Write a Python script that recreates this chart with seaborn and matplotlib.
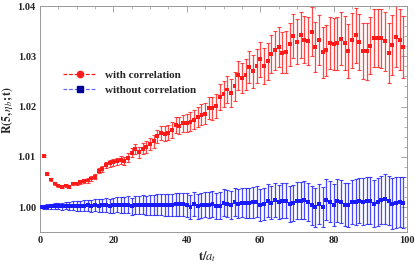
import numpy as np
import pandas as pd
import matplotlib
matplotlib.use("Agg")
import matplotlib.pyplot as plt
import seaborn as sns
from matplotlib.lines import Line2D
from matplotlib.ticker import MultipleLocator

# ---------------- data ----------------
t = list(range(0, 100))

with_corr = [
    1.0000, 1.0102, 1.0066, 1.0055, 1.0047, 1.0043, 1.0041, 1.0043, 1.0041, 1.0047,
    1.0047, 1.0050, 1.0052, 1.0053, 1.0057, 1.0060, 1.0072, 1.0076, 1.0083, 1.0087,
    1.0089, 1.0091, 1.0093, 1.0091, 1.0098, 1.0108, 1.0116, 1.0109, 1.0116, 1.0120,
    1.0126, 1.0131, 1.0141, 1.0147, 1.0146, 1.0148, 1.0154, 1.0164, 1.0162, 1.0167,
    1.0168, 1.0170, 1.0174, 1.0180, 1.0184, 1.0186, 1.0197, 1.0197, 1.0202, 1.0219,
    1.0225, 1.0234, 1.0227, 1.0240, 1.0262, 1.0257, 1.0263, 1.0279, 1.0270, 1.0280,
    1.0294, 1.0280, 1.0290, 1.0304, 1.0312, 1.0318, 1.0307, 1.0309, 1.0324, 1.0340,
    1.0329, 1.0342, 1.0333, 1.0330, 1.0349, 1.0318, 1.0332, 1.0308, 1.0312, 1.0327,
    1.0324, 1.0326, 1.0335, 1.0327, 1.0310, 1.0332, 1.0342, 1.0328, 1.0310, 1.0310,
    1.0321, 1.0337, 1.0336, 1.0336, 1.0330, 1.0307, 1.0322, 1.0339, 1.0333, 1.0319,
]
with_err = [
    0.0000, 0.0002, 0.0002, 0.0002, 0.0002, 0.0002, 0.0002, 0.0003, 0.0003, 0.0003,
    0.0003, 0.0003, 0.0004, 0.0004, 0.0004, 0.0005, 0.0005, 0.0006, 0.0006, 0.0007,
    0.0007, 0.0007, 0.0008, 0.0008, 0.0009, 0.0009, 0.0010, 0.0011, 0.0011, 0.0012,
    0.0012, 0.0013, 0.0013, 0.0014, 0.0015, 0.0015, 0.0016, 0.0016, 0.0017, 0.0017,
    0.0018, 0.0019, 0.0019, 0.0020, 0.0021, 0.0021, 0.0022, 0.0023, 0.0024, 0.0025,
    0.0025, 0.0026, 0.0027, 0.0028, 0.0029, 0.0030, 0.0031, 0.0032, 0.0033, 0.0034,
    0.0035, 0.0036, 0.0037, 0.0038, 0.0039, 0.0040, 0.0041, 0.0042, 0.0043, 0.0044,
    0.0045, 0.0046, 0.0047, 0.0048, 0.0049, 0.0050, 0.0050, 0.0051, 0.0051, 0.0052,
    0.0052, 0.0053, 0.0053, 0.0054, 0.0054, 0.0055, 0.0055, 0.0056, 0.0056, 0.0057,
    0.0057, 0.0058, 0.0058, 0.0059, 0.0059, 0.0060, 0.0060, 0.0061, 0.0061, 0.0062,
]

without_corr = [
    1.0000, 1.0001, 1.0001, 1.0002, 1.0002, 1.0002, 1.0002, 1.0003, 1.0002, 1.0003,
    1.0003, 1.0002, 1.0003, 1.0004, 1.0003, 1.0004, 1.0003, 1.0004, 1.0004, 1.0003,
    1.0004, 1.0005, 1.0004, 1.0004, 1.0005, 1.0002, 1.0005, 1.0004, 1.0005, 1.0004,
    1.0005, 1.0004, 1.0005, 1.0005, 1.0004, 1.0004, 1.0005, 1.0006, 1.0006, 1.0006,
    1.0005, 1.0000, 1.0006, 1.0002, 1.0004, 1.0005, 1.0005, 1.0006, 1.0003, 1.0003,
    1.0009, 1.0007, 1.0005, 1.0010, 1.0007, 1.0009, 1.0008, 1.0009, 1.0010, 1.0011,
    1.0005, 1.0007, 1.0013, 1.0009, 1.0015, 1.0011, 1.0013, 1.0013, 1.0007, 1.0008,
    1.0013, 1.0013, 1.0014, 1.0010, 1.0004, 1.0000, 1.0007, 1.0001, 1.0015, 1.0011,
    1.0005, 1.0013, 1.0011, 1.0005, 1.0004, 1.0010, 1.0010, 1.0013, 1.0011, 1.0013,
    1.0013, 1.0007, 1.0010, 1.0014, 1.0016, 1.0013, 1.0007, 1.0009, 1.0010, 1.0009,
]
without_err = [
    0.0000, 0.0004, 0.0005, 0.0005, 0.0006, 0.0006, 0.0007, 0.0007, 0.0008, 0.0009,
    0.0010, 0.0010, 0.0011, 0.0011, 0.0012, 0.0012, 0.0013, 0.0013, 0.0014, 0.0014,
    0.0015, 0.0015, 0.0016, 0.0016, 0.0017, 0.0017, 0.0018, 0.0018, 0.0019, 0.0019,
    0.0020, 0.0020, 0.0021, 0.0021, 0.0022, 0.0022, 0.0022, 0.0023, 0.0023, 0.0023,
    0.0024, 0.0024, 0.0024, 0.0025, 0.0025, 0.0025, 0.0026, 0.0026, 0.0026, 0.0027,
    0.0027, 0.0027, 0.0028, 0.0028, 0.0029, 0.0029, 0.0030, 0.0030, 0.0031, 0.0031,
    0.0032, 0.0032, 0.0033, 0.0033, 0.0034, 0.0034, 0.0035, 0.0035, 0.0036, 0.0036,
    0.0037, 0.0037, 0.0038, 0.0038, 0.0039, 0.0039, 0.0040, 0.0040, 0.0041, 0.0041,
    0.0042, 0.0042, 0.0043, 0.0043, 0.0044, 0.0044, 0.0045, 0.0045, 0.0046, 0.0046,
    0.0047, 0.0047, 0.0048, 0.0048, 0.0049, 0.0049, 0.0050, 0.0050, 0.0050, 0.0050,
]

labels = ["with correlation", "without correlation"]
x_ticks = [0, 20, 40, 60, 80, 100]
y_ticks = [1.00, 1.01, 1.02, 1.03, 1.04]

# ---------------- plot ----------------
sns.set_theme(style="white")
plt.rcParams["font.family"] = ["Liberation Serif", "DejaVu Serif"]
plt.rcParams["mathtext.fontset"] = "stix"

fig = plt.figure(figsize=(4.15, 2.65), dpi=100)
ax = fig.add_axes([40 / 415, 1 - 232.3 / 265, 367 / 415, (232.3 - 6) / 265])

red = "#ff1a1a"
blue = "#1a1aff"

df = pd.DataFrame({"t": t * 2,
                   "R": with_corr + without_corr,
                   "err": with_err + without_err,
                   "series": [labels[0]] * len(t) + [labels[1]] * len(t)})

for lab, col in zip(labels, [red, blue]):
    sub = df[df["series"] == lab]
    ax.errorbar(sub["t"], sub["R"], yerr=sub["err"], fmt="none",
                ecolor=col, elinewidth=0.9, capsize=1.6, capthick=0.8,
                alpha=0.8, zorder=2)

sns.scatterplot(data=df, x="t", y="R", hue="series", style="series",
                palette=[red, blue], markers=["s", "s"], s=8, linewidth=0,
                legend=False, ax=ax, zorder=3)

ax.set_xlim(0, 100)
ax.set_ylim(0.995, 1.04)
ax.set_xticks(x_ticks)
ax.set_yticks(y_ticks)
ax.set_yticklabels([f"{v:.2f}" for v in y_ticks])
ax.xaxis.set_minor_locator(MultipleLocator(5))
ax.yaxis.set_minor_locator(MultipleLocator(0.002))
ax.tick_params(which="both", direction="in", top=True, right=True,
               color="#999999", labelsize=7.5, pad=3)
ax.tick_params(which="major", length=4, width=0.6)
ax.tick_params(which="minor", length=2, width=0.5)
for lbl in ax.get_xticklabels() + ax.get_yticklabels():
    lbl.set_fontweight("bold")
for sp in ax.spines.values():
    sp.set_color("#999999")
    sp.set_linewidth(0.7)

ax.set_xlabel(r"$\mathbf{t/}\boldsymbol{a_t}$", fontsize=9)
ax.xaxis.set_label_coords(0.455, -0.075)
ax.set_ylabel(r"$\mathbf{R(5,}\boldsymbol{\eta_b}\mathbf{;t)}$", fontsize=8.5)
ax.yaxis.set_label_coords(-0.068, 0.54)

handles = [Line2D([0], [0], color=red, ls=(0, (3, 1.5)), lw=0.9, marker="o",
                  markersize=4.5, markerfacecolor=red, markeredgecolor=red),
           Line2D([0], [0], color="#6666ff", ls=(0, (3, 1.5)), lw=0.9, marker="s",
                  markersize=4, markerfacecolor="#000099", markeredgecolor="#000099")]
ax.legend(handles, labels, loc="upper left", bbox_to_anchor=(0.035, 0.76),
          frameon=False, prop={"weight": "bold", "size": 8},
          handlelength=3.0, handletextpad=0.8, labelspacing=0.45)

fig.savefig("out.png", dpi=100)
